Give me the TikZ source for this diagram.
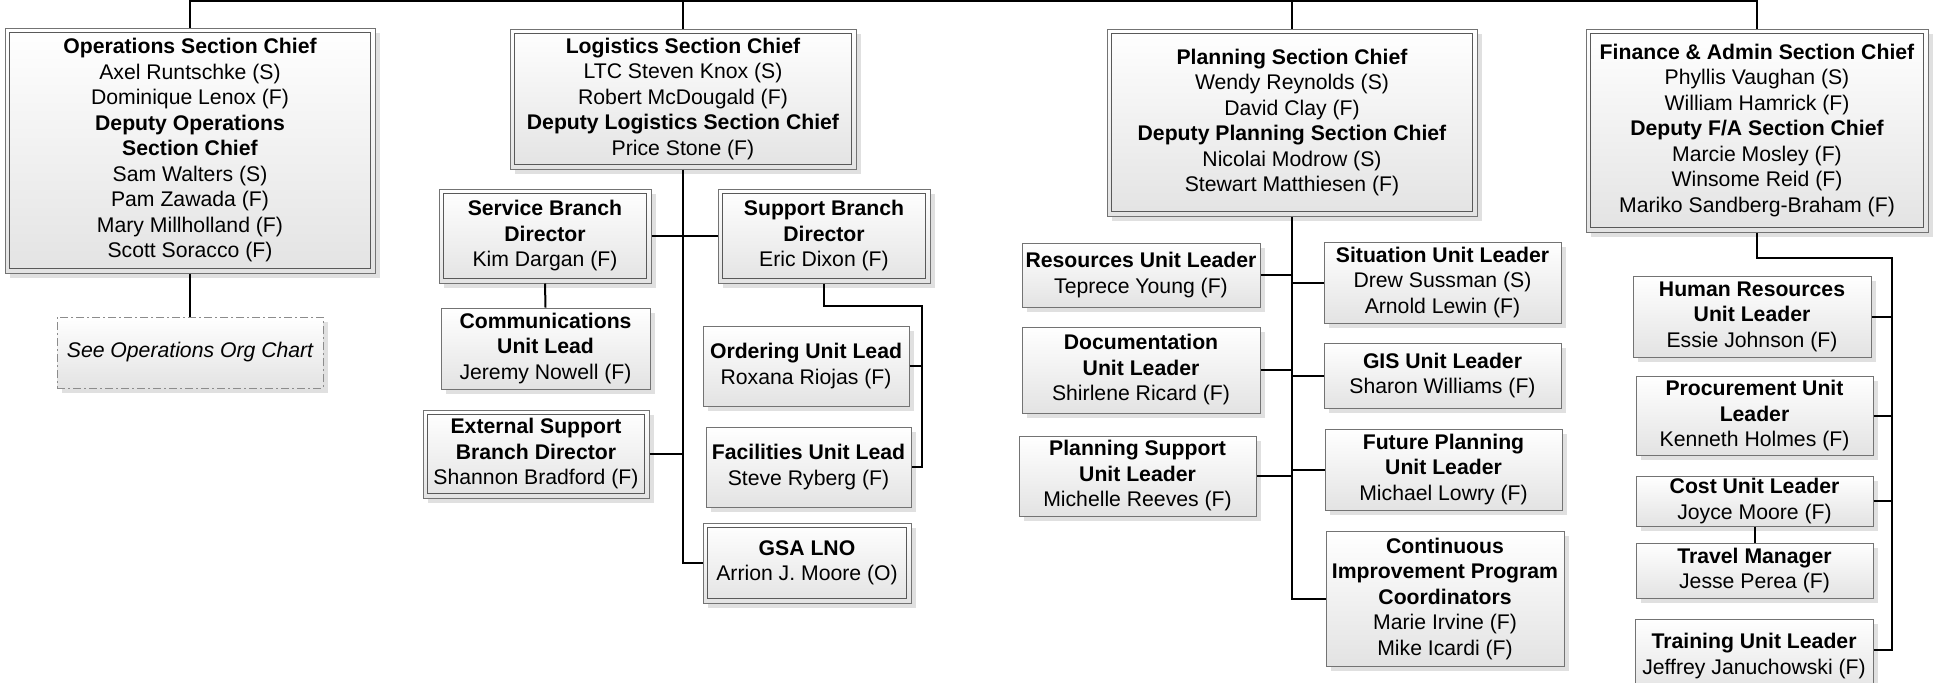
\documentclass[tikz,border=0pt]{standalone}
\usepackage{fontspec}
\setmainfont{Liberation Sans}
\usetikzlibrary{shadows}

\tikzset{
  conn/.style={draw=black, line width=1pt},
  box/.style={draw=black!55, line width=0.5pt, top color=white, bottom color=black!11,
    inner sep=0pt, align=center, font=\fontsize{10.6}{12.75}\selectfont,
    drop shadow={shadow xshift=2.4pt, shadow yshift=-2.4pt, fill=black!12, opacity=1}},
  dbox/.style={box, path picture={\draw[black!65, line width=0.5pt]
    ([shift={(2.35pt,-2.35pt)}]path picture bounding box.north west) rectangle
    ([shift={(-2.35pt,2.35pt)}]path picture bounding box.south east);}},
  dashbox/.style={box, draw=black!45, dash pattern=on 4pt off 1.5pt on 1pt off 1.5pt},
}
\newcommand\bx[7]{\node[#6, minimum width={(#4-#2)*0.5pt}, minimum height={(#5-#3)*0.5pt}] (#1) at ({(#2+#4)/2},{(#3+#5)/2}) {#7};}

\begin{document}
\begin{tikzpicture}[x=0.5pt, y=-0.5pt]
\useasboundingbox (0,0) rectangle (1933,682);
\clip (0,0) rectangle (1933,682);

% Operations
\bx{ops}{5}{28}{375}{273}{dbox}{\textbf{Operations Section Chief}\\Axel Runtschke (S)\\Dominique Lenox (F)\\\textbf{Deputy Operations}\\\textbf{Section Chief}\\Sam Walters (S)\\Pam Zawada (F)\\Mary Millholland (F)\\Scott Soracco (F)}
\bx{seeops}{57}{317}{323}{388}{dashbox}{\itshape See Operations Org Chart}

% Logistics
\bx{log}{510}{29}{856}{169}{dbox}{\textbf{Logistics Section Chief}\\LTC Steven Knox (S)\\Robert McDougald (F)\\\textbf{Deputy Logistics Section Chief}\\Price Stone (F)}
\bx{svc}{439}{189}{651}{283}{dbox}{\textbf{Service Branch}\\\textbf{Director}\\Kim Dargan (F)}
\bx{sup}{718}{189}{930}{283}{dbox}{\textbf{Support Branch}\\\textbf{Director}\\Eric Dixon (F)}
\bx{comm}{441}{308}{650}{389}{box}{\textbf{Communications}\\\textbf{Unit Lead}\\Jeremy Nowell (F)}
\bx{ord}{703}{326}{909}{406}{box}{\textbf{Ordering Unit Lead}\\Roxana Riojas (F)}
\bx{ext}{423}{410}{649}{498}{dbox}{\textbf{External Support}\\\textbf{Branch Director}\\Shannon Bradford (F)}
\bx{fac}{706}{427}{911}{507}{box}{\textbf{Facilities Unit Lead}\\Steve Ryberg (F)}
\bx{gsa}{703}{523}{911}{603}{dbox}{\textbf{GSA LNO}\\Arrion J. Moore (O)}

% Planning
\bx{plan}{1107}{29}{1477}{216}{dbox}{\textbf{Planning Section Chief}\\Wendy Reynolds (S)\\David Clay (F)\\\textbf{Deputy Planning Section Chief}\\Nicolai Modrow (S)\\Stewart Matthiesen (F)}
\bx{res}{1022}{243}{1260}{307}{box}{\textbf{Resources Unit Leader}\\Teprece Young (F)}
\bx{sit}{1324}{242}{1561}{323}{box}{\textbf{Situation Unit Leader}\\Drew Sussman (S)\\Arnold Lewin (F)}
\bx{doc}{1022}{327}{1260}{413}{box}{\textbf{Documentation}\\\textbf{Unit Leader}\\Shirlene Ricard (F)}
\bx{gis}{1324}{343}{1561}{408}{box}{\textbf{GIS Unit Leader}\\Sharon Williams (F)}
\bx{psu}{1019}{436}{1256}{516}{box}{\textbf{Planning Support}\\\textbf{Unit Leader}\\Michelle Reeves (F)}
\bx{fpu}{1325}{429}{1562}{510}{box}{\textbf{Future Planning}\\\textbf{Unit Leader}\\Michael Lowry (F)}
\bx{cip}{1326}{531}{1564}{666}{box}{\textbf{Continuous}\\\textbf{Improvement Program}\\\textbf{Coordinators}\\Marie Irvine (F)\\Mike Icardi (F)}

% Finance
\bx{fin}{1586}{29}{1928}{232}{dbox}{\textbf{Finance \& Admin Section Chief}\\Phyllis Vaughan (S)\\William Hamrick (F)\\\textbf{Deputy F/A Section Chief}\\Marcie Mosley (F)\\Winsome Reid (F)\\Mariko Sandberg-Braham (F)}
\bx{hr}{1633}{276}{1871}{357}{box}{\textbf{Human Resources}\\\textbf{Unit Leader}\\Essie Johnson (F)}
\bx{proc}{1636}{376}{1873}{455}{box}{\textbf{Procurement Unit}\\\textbf{Leader}\\Kenneth Holmes (F)}
\bx{cost}{1636}{476}{1873}{526}{box}{\textbf{Cost Unit Leader}\\Joyce Moore (F)}
\bx{trav}{1636}{543}{1873}{598}{box}{\textbf{Travel Manager}\\Jesse Perea (F)}
\bx{train}{1635}{619}{1873}{693}{box}{\textbf{Training Unit Leader}\\Jeffrey Januchowski (F)}

% Connectors
\coordinate (bus) at (0,0.5);
\draw[conn] (ops.north) |- (bus -| fin.north) -- (fin.north);
\draw[conn] (log.north) -- (log.north |- bus);
\draw[conn] (plan.north) -- (plan.north |- bus);
\draw[conn] (ops.south) -- (seeops.north);

\draw[conn] (log.south) |- (gsa.west);
\draw[conn] (svc.east) -- (sup.west);
\draw[conn] (ext.east) -- (ext.east -| log.south);
\draw[conn] (svc.south) -- (comm.north);
\coordinate (supbus) at (922.3,306);
\draw[conn] (sup.south) |- (supbus) |- (fac.east);
\draw[conn] (ord.east) -- (ord.east -| supbus);

\draw[conn] (plan.south) |- (cip.west);
\draw[conn] (res.east) -- (res.east -| plan.south);
\draw[conn] (sit.west) -- (sit.west -| plan.south);
\draw[conn] (doc.east) -- (doc.east -| plan.south);
\draw[conn] (gis.west) -- (gis.west -| plan.south);
\draw[conn] (psu.east) -- (psu.east -| plan.south);
\draw[conn] (fpu.west) -- (fpu.west -| plan.south);

\coordinate (finbus) at (1892.3,258.3);
\draw[conn] (fin.south) |- (finbus) |- ([yshift=3pt]train.east);
\draw[conn] (hr.east) -- (hr.east -| finbus);
\draw[conn] (proc.east) -- (proc.east -| finbus);
\draw[conn] (cost.east) -- (cost.east -| finbus);
\draw[conn] (cost.south) -- (trav.north);
\end{tikzpicture}
\end{document}
